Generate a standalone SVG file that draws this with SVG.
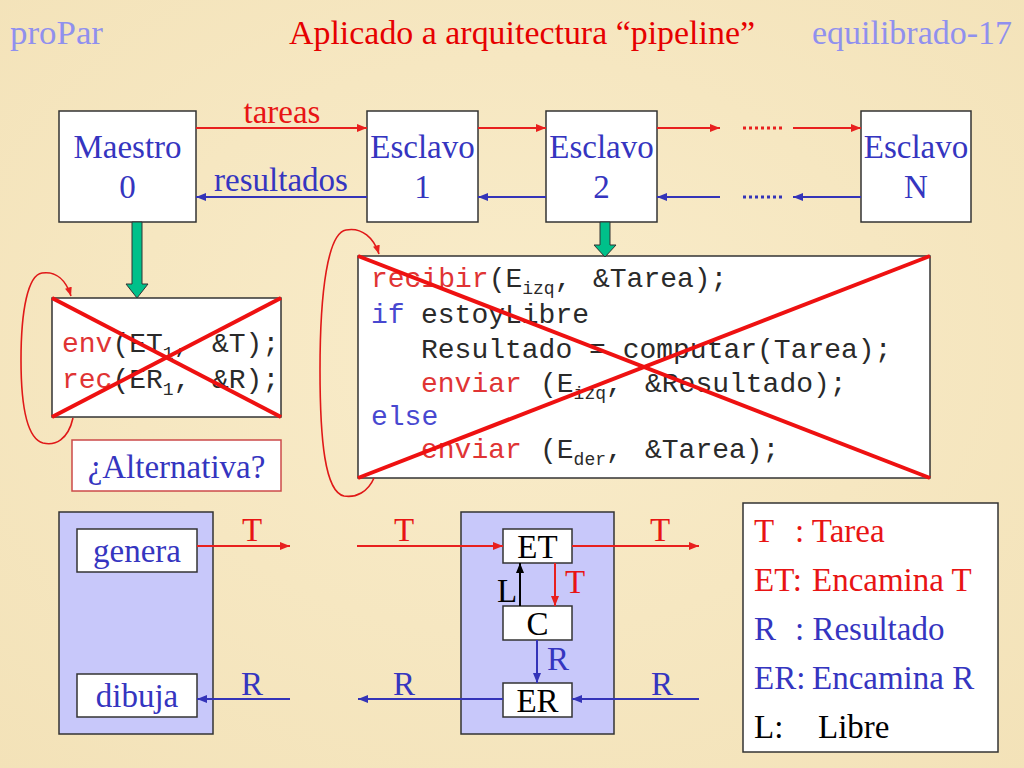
<svg xmlns="http://www.w3.org/2000/svg" width="1024" height="768" viewBox="0 0 1024 768">
<defs>
  <radialGradient id="bg" cx="50%" cy="45%" r="75%">
    <stop offset="0" stop-color="#f9ecca"/>
    <stop offset="1" stop-color="#f3e2b8"/>
  </radialGradient>
  <marker id="ar" viewBox="0 0 10 8" refX="10" refY="4" markerWidth="10" markerHeight="8" markerUnits="userSpaceOnUse" orient="auto">
    <path d="M0,0 L10,4 L0,8 Z" fill="#e8201e"/>
  </marker>
  <marker id="ab" viewBox="0 0 10 8" refX="10" refY="4" markerWidth="10" markerHeight="8" markerUnits="userSpaceOnUse" orient="auto">
    <path d="M0,0 L10,4 L0,8 Z" fill="#3434b8"/>
  </marker>
  <marker id="ak" viewBox="0 0 10 8" refX="10" refY="4" markerWidth="10" markerHeight="8" markerUnits="userSpaceOnUse" orient="auto">
    <path d="M0,0 L10,4 L0,8 Z" fill="#000"/>
  </marker>
  <marker id="arl" viewBox="0 0 10 8" refX="10" refY="4" markerWidth="9" markerHeight="7" markerUnits="userSpaceOnUse" orient="auto">
    <path d="M0,0 L10,4 L0,8 Z" fill="#e8201e"/>
  </marker>
</defs>
<style>
  .serif { font-family: "Liberation Serif", "Times New Roman", serif; }
  .mono { font-family: "Liberation Mono", "Courier New", monospace; font-size: 28px; fill: #2a2a2a; }
  .sub { font-size: 18px; }
  .box { fill: #fff; stroke: #333; stroke-width: 1.5; }
  .panel { fill: #c8c8fa; stroke: #333; stroke-width: 1.5; }
  .blue { fill: #3535c0; }
  .red { fill: #e81414; }
  .blk { fill: #000; }
  .lbl { font-family: "Liberation Serif", "Times New Roman", serif; font-size: 33px; text-anchor: middle; }
  .rl { stroke: #e8201e; stroke-width: 2; fill: none; }
  .bl { stroke: #3434b8; stroke-width: 2; fill: none; }
  .kl { stroke: #000; stroke-width: 2; fill: none; }
  .cross { stroke: #ee1111; stroke-width: 4; }
  .green { fill: #00c08a; stroke: #333; stroke-width: 1; }
  .loop { stroke: #e01818; stroke-width: 1.6; fill: none; }
  .cred { fill: #e03434; }
  .cblue { fill: #4848d0; }
  .leg { font-family: "Liberation Serif", "Times New Roman", serif; font-size: 33px; }
</style>
<rect x="0" y="0" width="1024" height="768" fill="url(#bg)"/>

<g id="title" class="serif" font-size="34">
  <text x="10" y="44" fill="#9090ee" textLength="93" lengthAdjust="spacingAndGlyphs">proPar</text>
  <text x="289" y="44" fill="#e60000" textLength="466" lengthAdjust="spacingAndGlyphs">Aplicado a arquitectura “pipeline”</text>
  <text x="812" y="44" fill="#9090ee" textLength="200" lengthAdjust="spacingAndGlyphs">equilibrado-17</text>
</g>

<g id="maestro">
  <rect class="box" x="59" y="111" width="137" height="111"/>
  <text class="lbl blue" x="127.5" y="158">Maestro</text>
  <text class="lbl blue" x="127.5" y="198">0</text>
</g>
<g id="esclavo1">
  <rect class="box" x="367" y="111" width="111" height="111"/>
  <text class="lbl blue" x="422.5" y="158">Esclavo</text>
  <text class="lbl blue" x="422.5" y="198">1</text>
</g>
<g id="esclavo2">
  <rect class="box" x="546" y="111" width="111" height="111"/>
  <text class="lbl blue" x="601.5" y="158">Esclavo</text>
  <text class="lbl blue" x="601.5" y="198">2</text>
</g>
<g id="esclavoN">
  <rect class="box" x="861" y="111" width="110" height="111"/>
  <text class="lbl blue" x="916" y="158">Esclavo</text>
  <text class="lbl blue" x="916" y="198">N</text>
</g>

<g id="code-maestro">
  <rect class="box" x="52" y="298" width="229" height="119"/>
  <text class="mono" x="62" y="352"><tspan class="cred">env</tspan>(ET<tspan class="sub" dy="7">1</tspan><tspan dy="-7">,</tspan><tspan x="212">&amp;T);</tspan></text>
  <text class="mono" x="62" y="388"><tspan class="cred">rec</tspan>(ER<tspan class="sub" dy="7">1</tspan><tspan dy="-7">,</tspan><tspan x="212">&amp;R);</tspan></text>
  <line class="cross" x1="52" y1="298" x2="281" y2="417"/>
  <line class="cross" x1="52" y1="417" x2="281" y2="298"/>
</g>

<g id="alternativa">
  <rect x="72" y="440" width="209" height="51" fill="#fff" stroke="#cc4a4a" stroke-width="1.5"/>
  <text class="lbl blue" x="176.5" y="478">¿Alternativa?</text>
</g>

<g id="code-esclavo">
  <rect class="box" x="358" y="256" width="572" height="222"/>
  <text class="mono" x="371" y="287"><tspan class="cred">recibir</tspan>(E<tspan class="sub" dy="7">izq</tspan><tspan dy="-7">,</tspan><tspan x="593">&amp;Tarea);</tspan></text>
  <text class="mono" x="371" y="323"><tspan class="cblue">if</tspan><tspan x="421">estoyLibre</tspan></text>
  <text class="mono" x="421" y="358">Resultado = computar(Tarea);</text>
  <text class="mono" x="421" y="392"><tspan class="cred">enviar</tspan><tspan x="540">(E</tspan><tspan class="sub" dy="7">izq</tspan><tspan dy="-7">,</tspan><tspan x="645">&amp;Resultado);</tspan></text>
  <text class="mono cblue" x="371" y="425">else</text>
  <text class="mono" x="421" y="458"><tspan class="cred">enviar</tspan><tspan x="540">(E</tspan><tspan class="sub" dy="7">der</tspan><tspan dy="-7">,</tspan><tspan x="645">&amp;Tarea);</tspan></text>
  <line class="cross" x1="358" y1="256" x2="930" y2="478"/>
  <line class="cross" x1="358" y1="478" x2="930" y2="256"/>
</g>

<g id="proc-maestro">
  <rect class="panel" x="59" y="512" width="154" height="222"/>
  <rect class="box" x="77" y="529" width="120" height="43"/>
  <text class="lbl blue" x="137" y="562">genera</text>
  <rect class="box" x="77" y="674" width="120" height="43"/>
  <text class="lbl blue" x="137" y="707">dibuja</text>
</g>

<g id="proc-esclavo">
  <rect class="panel" x="461" y="512" width="153" height="222"/>
  <rect class="box" x="503" y="529" width="69" height="34"/>
  <text class="lbl blk" x="537.5" y="558">ET</text>
  <rect class="box" x="503" y="606" width="69" height="34"/>
  <text class="lbl blk" x="537.5" y="635">C</text>
  <rect class="box" x="503" y="683" width="69" height="34"/>
  <text class="lbl blk" x="537.5" y="712">ER</text>
</g>

<g id="leyenda">
  <rect x="743" y="503" width="255" height="249" fill="#fff" stroke="#333" stroke-width="1.5"/>
  <text class="leg red" y="542"><tspan x="754">T</tspan><tspan x="795">: Tarea</tspan></text>
  <text class="leg red" y="591"><tspan x="754">ET:</tspan><tspan x="812">Encamina T</tspan></text>
  <text class="leg blue" y="640"><tspan x="754">R</tspan><tspan x="795">: Resultado</tspan></text>
  <text class="leg blue" y="689"><tspan x="754">ER:</tspan><tspan x="812">Encamina R</tspan></text>
  <text class="leg blk" y="738"><tspan x="754">L:</tspan><tspan x="818">Libre</tspan></text>
</g>

<g id="connectors">
  <line class="rl" x1="196" y1="128" x2="367" y2="128" marker-end="url(#ar)"/>
  <line class="bl" x1="367" y1="197" x2="196" y2="197" marker-end="url(#ab)"/>
  <line class="rl" x1="478" y1="128" x2="546" y2="128" marker-end="url(#ar)"/>
  <line class="bl" x1="546" y1="197" x2="478" y2="197" marker-end="url(#ab)"/>
  <line class="rl" x1="657" y1="128" x2="720" y2="128" marker-end="url(#ar)"/>
  <line x1="743" y1="128" x2="785" y2="128" stroke="#e8201e" stroke-width="3" stroke-dasharray="3 3"/>
  <line class="rl" x1="793" y1="128" x2="861" y2="128" marker-end="url(#ar)"/>
  <line class="bl" x1="861" y1="197" x2="793" y2="197" marker-end="url(#ab)"/>
  <line x1="743" y1="197" x2="785" y2="197" stroke="#3434b8" stroke-width="3" stroke-dasharray="3 3"/>
  <line class="bl" x1="720" y1="197" x2="657" y2="197" marker-end="url(#ab)"/>
  <path class="green" d="M132,222 L142,222 L142,284 L148,284 L137,298 L126,284 L132,284 Z"/>
  <path class="green" d="M600,222 L610,222 L610,245 L616,245 L605,257 L594,245 L600,245 Z"/>
  <path class="loop" d="M73,418 C68,440 55,446 43,443 C25,438 21,400 21,360 C21,310 28,275 42,273 C56,271 66,280 71,296" marker-end="url(#arl)"/>
  <path class="loop" d="M374,478 C368,492 356,498 344,496 C325,492 320,440 320,370 C320,290 328,233 346,230 C362,227 374,238 379,254" marker-end="url(#arl)"/>
  <line class="rl" x1="197" y1="546" x2="290" y2="546" marker-end="url(#ar)"/>
  <line class="bl" x1="290" y1="699" x2="197" y2="699" marker-end="url(#ab)"/>
  <line class="rl" x1="357" y1="546" x2="503" y2="546" marker-end="url(#ar)"/>
  <line class="rl" x1="572" y1="546" x2="699" y2="546" marker-end="url(#ar)"/>
  <line class="rl" x1="555" y1="563" x2="555" y2="606" marker-end="url(#ar)"/>
  <line class="kl" x1="520" y1="606" x2="520" y2="563" marker-end="url(#ak)"/>
  <line class="bl" x1="537" y1="640" x2="537" y2="683" marker-end="url(#ab)"/>
  <line class="bl" x1="503" y1="699" x2="358" y2="699" marker-end="url(#ab)"/>
  <line class="bl" x1="699" y1="699" x2="572" y2="699" marker-end="url(#ab)"/>
  <text class="lbl red" x="282" y="123">tareas</text>
  <text class="lbl blue" x="281" y="191">resultados</text>
  <text class="lbl red" x="252" y="541">T</text>
  <text class="lbl blue" x="252" y="695">R</text>
  <text class="lbl red" x="404" y="541">T</text>
  <text class="lbl blue" x="404" y="695">R</text>
  <text class="lbl red" x="660" y="541">T</text>
  <text class="lbl blue" x="662" y="695">R</text>
  <text class="lbl red" x="575" y="593">T</text>
  <text class="lbl blk" x="507" y="602">L</text>
  <text class="lbl blue" x="558" y="670">R</text>
</g>
</svg>
